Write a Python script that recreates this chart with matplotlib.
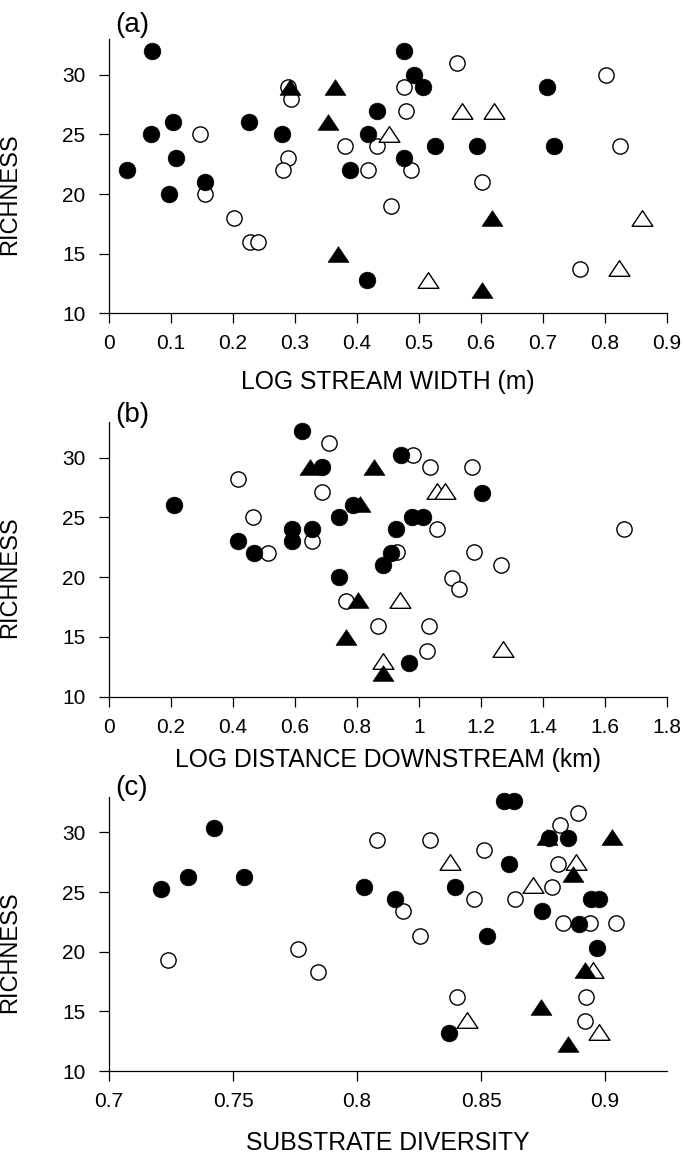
import matplotlib
matplotlib.use('Agg')
import matplotlib.pyplot as plt
from matplotlib.path import Path
from matplotlib.ticker import FuncFormatter

plt.rcParams['font.family'] = ['Liberation Sans Narrow', 'Liberation Sans', 'DejaVu Sans']

# (a) richness vs log stream width
a_fc_x = [0.070, 0.067, 0.103, 0.108, 0.029, 0.096, 0.155, 0.226, 0.279, 0.389, 0.476,
          0.492, 0.507, 0.432, 0.417, 0.476, 0.526, 0.594, 0.706, 0.717, 0.416]
a_fc_y = [32, 25, 26, 23, 22, 20, 21, 26, 25, 22, 32, 30, 29, 27, 25, 23, 24, 24, 29, 24, 12.8]
a_oc_x = [0.146, 0.155, 0.202, 0.227, 0.241, 0.288, 0.294, 0.289, 0.281, 0.381, 0.562,
          0.475, 0.479, 0.432, 0.417, 0.487, 0.602, 0.455, 0.801, 0.824, 0.760]
a_oc_y = [25, 20, 18, 16, 16, 29, 28, 23, 22, 24, 31, 29, 27, 24, 22, 22, 21, 19, 30, 24, 13.7]
a_ft_x = [0.292, 0.365, 0.353, 0.370, 0.618, 0.601]
a_ft_y = [29, 29, 26, 15, 18, 12]
a_ot_x = [0.452, 0.570, 0.621, 0.860, 0.823, 0.515]
a_ot_y = [25, 27, 27, 18, 13.8, 12.8]

# (b) richness vs log distance downstream
b_fc_x = [0.210, 0.624, 0.686, 0.417, 0.469, 0.591, 0.591, 0.656, 0.741, 0.742, 0.788,
          0.941, 0.925, 0.976, 1.012, 1.202, 0.909, 0.883, 0.969]
b_fc_y = [26, 32.2, 29.2, 23, 22, 24, 23, 24, 25, 20, 26, 30.2, 24, 25, 25, 27, 22, 21, 12.8]
b_oc_x = [0.417, 0.466, 0.514, 0.656, 0.710, 0.686, 0.765, 0.982, 1.035, 1.170, 1.057,
          1.661, 0.928, 1.177, 1.264, 1.105, 1.130, 0.869, 1.033, 1.025]
b_oc_y = [28.2, 25, 22, 23, 31.2, 27.1, 18, 30.2, 29.2, 29.2, 24, 24, 22.1, 22.1, 21,
          19.9, 19, 15.9, 15.9, 13.8]
b_ft_x = [0.648, 0.810, 0.855, 0.804, 0.765, 0.883]
b_ft_y = [29.2, 26.1, 29.2, 18.1, 15, 12]
b_ot_x = [1.059, 1.084, 0.939, 0.885, 1.272]
b_ot_y = [27.2, 27.2, 18.1, 13, 14]

# (c) richness vs substrate diversity
c_fc_x = [0.7209, 0.7317, 0.7424, 0.7545, 0.8591, 0.8635, 0.8776, 0.8852, 0.8614, 0.8027,
          0.8394, 0.8155, 0.8745, 0.8944, 0.8977, 0.8897, 0.8524, 0.8967, 0.8369]
c_fc_y = [25.3, 26.3, 30.4, 26.3, 32.6, 32.6, 29.5, 29.5, 27.4, 25.4, 25.4, 24.4, 23.4,
          24.4, 24.4, 22.3, 21.3, 20.3, 13.2]
c_oc_x = [0.7236, 0.7763, 0.7844, 0.8081, 0.8293, 0.8893, 0.8819, 0.8513, 0.8810, 0.8785,
          0.8473, 0.8638, 0.8186, 0.8253, 0.8832, 0.8940, 0.9044, 0.8403, 0.8922, 0.8920]
c_oc_y = [19.3, 20.2, 18.3, 29.4, 29.4, 31.6, 30.6, 28.5, 27.4, 25.4, 24.4, 24.4, 23.4,
          21.3, 22.4, 22.4, 22.4, 16.2, 16.2, 14.2]
c_ft_x = [0.8765, 0.9027, 0.8870, 0.8920, 0.8742, 0.8850]
c_ft_y = [29.6, 29.6, 26.5, 18.5, 15.4, 12.3]
c_ot_x = [0.8376, 0.8709, 0.8883, 0.8950, 0.8443, 0.8977]
c_ot_y = [27.5, 25.6, 27.5, 18.5, 14.3, 13.3]

y_ticks = [10, 15, 20, 25, 30]
a_xticks = [0, 0.1, 0.2, 0.3, 0.4, 0.5, 0.6, 0.7, 0.8, 0.9]
b_xticks = [0, 0.2, 0.4, 0.6, 0.8, 1.0, 1.2, 1.4, 1.6, 1.8]
c_xticks = [0.7, 0.75, 0.8, 0.85, 0.9]

# wide, flat triangle like the original symbols
tri = Path([(0, 0.75), (-1, -0.75), (1, -0.75), (0, 0.75)],
           [Path.MOVETO, Path.LINETO, Path.LINETO, Path.CLOSEPOLY])


def draw_panel(ax, fc, oc, ft, ot, xlim, xticks, xlabel, tag, tag_y, xlab_y):
    ax.plot(oc[0], oc[1], 'o', ms=11, mfc='white', mec='black', mew=1.0, ls='none',
            zorder=2, clip_on=False)
    ax.plot(ot[0], ot[1], marker=tri, ms=15, mfc='white', mec='black', mew=1.0, ls='none',
            zorder=2, clip_on=False)
    ax.plot(fc[0], fc[1], 'o', ms=12, mfc='black', mec='black', mew=0.5, ls='none',
            zorder=3, clip_on=False)
    ax.plot(ft[0], ft[1], marker=tri, ms=15, mfc='black', mec='black', mew=0.5, ls='none',
            zorder=3, clip_on=False)

    ax.set_xlim(xlim)
    ax.set_ylim(10, 33)
    ax.set_xticks(xticks)
    ax.set_yticks(y_ticks)
    ax.xaxis.set_major_formatter(FuncFormatter(lambda v, p: '%g' % round(v, 3)))
    for s in ['top', 'right']:
        ax.spines[s].set_visible(False)
    for s in ['left', 'bottom']:
        ax.spines[s].set_linewidth(0.9)
    ax.tick_params(axis='both', direction='out', length=7, width=0.9, labelsize=15)
    ax.tick_params(axis='x', pad=8)
    ax.tick_params(axis='y', pad=10)

    ax.set_xlabel(xlabel, fontsize=17.8)
    ax.xaxis.set_label_coords(0.5, xlab_y)
    ax.set_ylabel('RICHNESS', fontsize=17)
    ax.yaxis.set_label_coords(-0.158, 0.435)
    ax.text(0.011, tag_y, tag, transform=ax.transAxes, fontsize=20, ha='left', va='center')


fig = plt.figure(figsize=(6.83, 11.55), dpi=100)
ax_a = fig.add_axes([0.1596, 0.7286, 0.8170, 0.2377])
ax_b = fig.add_axes([0.1596, 0.3968, 0.8170, 0.2381])
ax_c = fig.add_axes([0.1596, 0.0727, 0.8170, 0.2375])

draw_panel(ax_a, (a_fc_x, a_fc_y), (a_oc_x, a_oc_y), (a_ft_x, a_ft_y), (a_ot_x, a_ot_y),
           (0, 0.9), a_xticks, 'LOG STREAM WIDTH (m)', '(a)', 1.052, -0.205)
draw_panel(ax_b, (b_fc_x, b_fc_y), (b_oc_x, b_oc_y), (b_ft_x, b_ft_y), (b_ot_x, b_ot_y),
           (0, 1.8), b_xticks, 'LOG DISTANCE DOWNSTREAM (km)', '(b)', 1.024, -0.185)
draw_panel(ax_c, (c_fc_x, c_fc_y), (c_oc_x, c_oc_y), (c_ft_x, c_ft_y), (c_ot_x, c_ot_y),
           (0.7, 0.925), c_xticks, 'SUBSTRATE DIVERSITY', '(c)', 1.032, -0.218)

fig.savefig('out.png', dpi=100)
